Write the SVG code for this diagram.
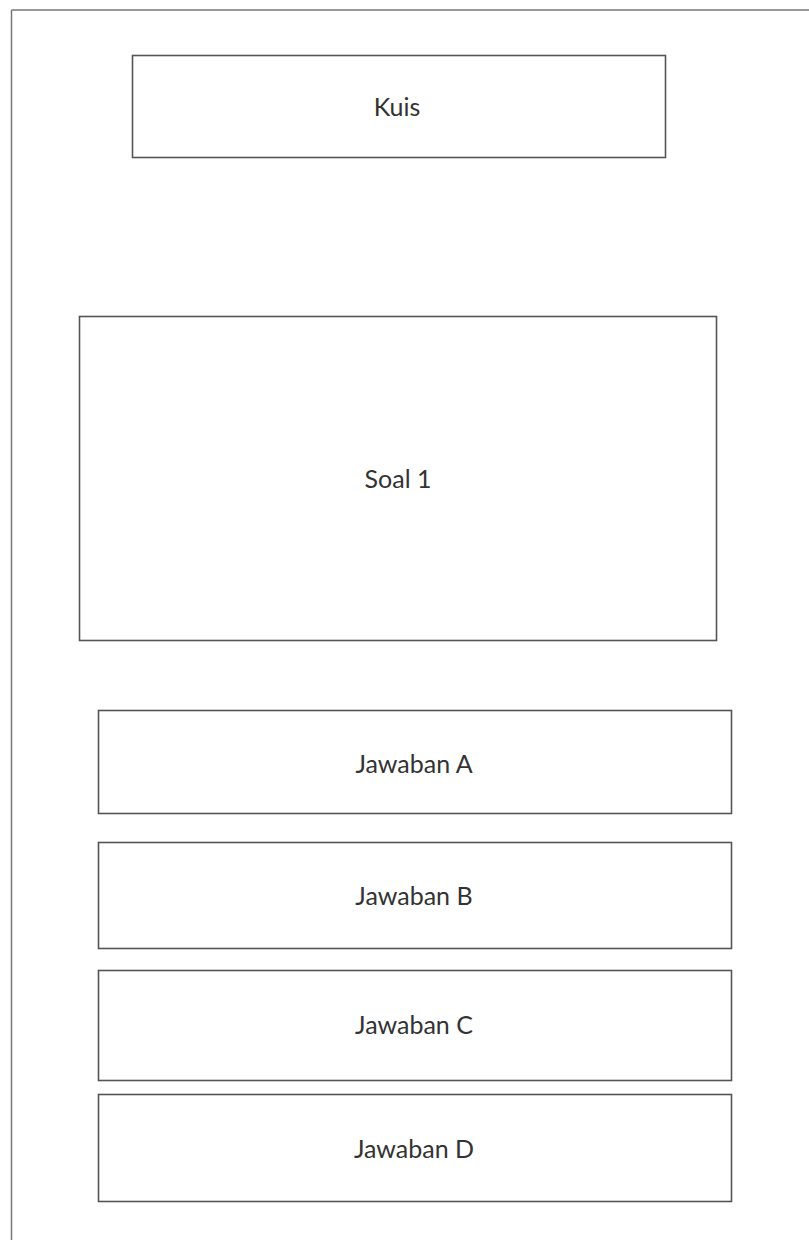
<svg xmlns="http://www.w3.org/2000/svg" width="809" height="1240" viewBox="0 0 809 1240">
<style>
.box{fill:#fff;stroke:#555;stroke-width:1.6}
.lbl{font-family:Lato,"Open Sans","Liberation Sans",sans-serif;font-size:25px;fill:#333;text-anchor:middle;dominant-baseline:central}
.frame{stroke:#777;stroke-width:1.5;fill:none}
</style>
<rect width="809" height="1240" fill="#fff"/>
<g id="frame">
<line class="frame" x1="11.5" y1="10" x2="809" y2="10"/>
<line class="frame" x1="11.5" y1="10" x2="11.5" y2="1240"/>
</g>
<g id="kuis"><rect class="box" x="132.5" y="55.5" width="533" height="102"/><text class="lbl" x="397" y="106">Kuis</text></g>
<g id="soal1"><rect class="box" x="79.5" y="316.5" width="637" height="324"/><text class="lbl" x="398" y="478">Soal 1</text></g>
<g id="jawabanA"><rect class="box" x="98.5" y="710.5" width="633" height="103"/><text class="lbl" x="414" y="763">Jawaban A</text></g>
<g id="jawabanB"><rect class="box" x="98.5" y="842.5" width="633" height="106"/><text class="lbl" x="414" y="895">Jawaban B</text></g>
<g id="jawabanC"><rect class="box" x="98.5" y="970.5" width="633" height="110"/><text class="lbl" x="414" y="1024">Jawaban C</text></g>
<g id="jawabanD"><rect class="box" x="98.5" y="1094.5" width="633" height="107"/><text class="lbl" x="414" y="1148">Jawaban D</text></g>
<g id="connectors"></g>
</svg>
